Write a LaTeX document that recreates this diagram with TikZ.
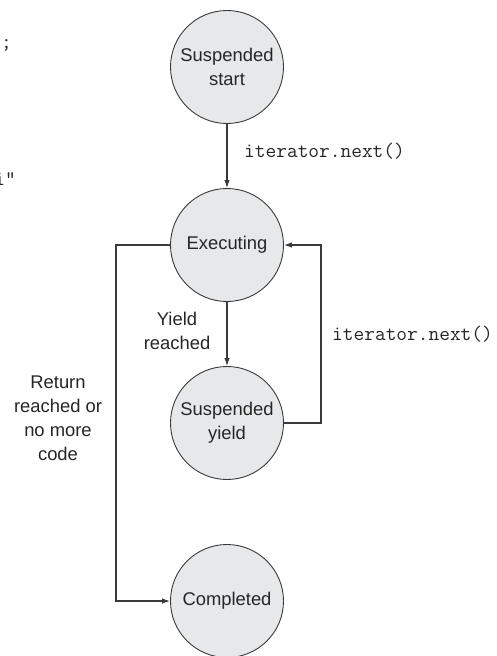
\documentclass[tikz,border=0pt]{standalone}
\usepackage{fontspec}
\setmainfont{Liberation Sans}
\usetikzlibrary{arrows.meta}
\definecolor{statefill}{HTML}{E6E8E9}
\definecolor{linegray}{HTML}{3A3A3A}
\begin{document}
\begin{tikzpicture}[x=1pt,y=-1pt,
  state/.style={circle,draw=linegray,line width=0.9pt,fill=statefill,minimum size=113pt,inner sep=0pt,align=center,text=black!85,font=\fontsize{18.4}{24}\selectfont},
  lbl/.style={align=center,text=black!85,font=\fontsize{18.4}{24}\selectfont},
  code/.style={text=black!85,font=\ttfamily\fontsize{20.8}{24}\selectfont,inner sep=0pt},
  conn/.style={draw=linegray,line width=1.1pt,-{Latex[length=8pt,width=5.5pt]}}]
\useasboundingbox (0,0) rectangle (497,656);
\node[state] (start) at (227,67) {Suspended\\start};
\node[state] (exec) at (227,245) {Executing};
\node[state] (yield) at (227,423) {Suspended\\yield};
\node[state] (done) at (227,601) {Completed};
\coordinate (rloop) at (321,423);
\coordinate (lloop) at (116,245);
\draw[conn] (start) -- (exec);
\draw[conn] (exec) -- (yield);
\draw[conn] (yield.east) -- (rloop) |- (exec.east);
\draw[conn] (exec.west) -- (lloop) |- (done.west);
\node[code,anchor=west] (lab1) at (244,151) {iterator.next()};
\node[code,anchor=west] (lab2) at (332,334) {iterator.next()};
\node[lbl] (lab3) at (177,331) {Yield\\reached};
\node[lbl] (lab4) at (58,418) {Return\\reached or\\no more\\code};
\node[code,anchor=west] (frag1) at (1,45) {;};
\node[code,anchor=east] (frag2) at (16,179) {i"};
\end{tikzpicture}
\end{document}
